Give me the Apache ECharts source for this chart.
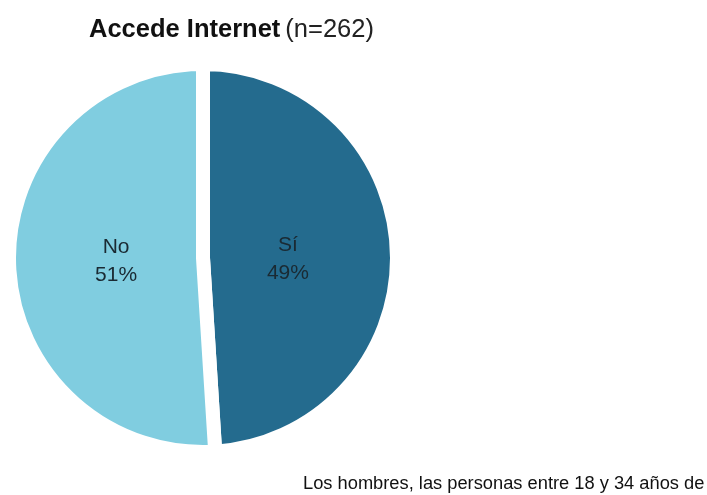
<!DOCTYPE html>
<html>
<head>
<meta charset="utf-8">
<script src="https://cdn.jsdelivr.net/npm/echarts@6/dist/echarts.min.js"></script>
<style>
  html, body { margin: 0; padding: 0; background: #fff; }
  #main { width: 707px; height: 495px; }
</style>
</head>
<body>
<div id="main"></div>
<script>
// datos del gráfico
var categorias = ['Sí', 'No'];
var valores = [49, 51];
var colores = ['#246B8E', '#80CDE0'];
var tituloNegrita = 'Accede Internet';
var tituloNormal = '(n=262)';
var notaPie = 'Los hombres, las personas entre 18 y 34 años de';

var myChart = echarts.init(document.getElementById('main'));

var datos = categorias.map(function (c, i) {
    return { name: c, value: valores[i], itemStyle: { color: colores[i] } };
});

// ajuste de etiquetas hacia el centro (como en el original)
var desplaza = [[-15, 4], [13, 0]];

var option = {
    backgroundColor: '#fff',
    animation: false,
    title: {
        text: '{b|' + tituloNegrita + '} {n|' + tituloNormal + '}',
        left: 84,
        top: 12,
        textStyle: {
            rich: {
                b: { fontFamily: 'Liberation Sans', fontWeight: 'bold', fontSize: 25.5, color: '#111' },
                n: { fontFamily: 'Liberation Sans', fontWeight: 'normal', fontSize: 25.5, color: '#222' }
            }
        }
    },
    graphic: [{
        type: 'text',
        left: 303,
        top: 475,
        style: {
            text: notaPie,
            fontFamily: 'Liberation Sans',
            fontSize: 18.3,
            fill: '#111'
        }
    }],
    series: [{
        type: 'pie',
        center: [203, 258],
        radius: [0, 194],
        startAngle: 90,
        clockwise: true,
        data: datos,
        itemStyle: {
            borderColor: '#fff',
            borderWidth: 14
        },
        label: {
            position: 'inside',
            formatter: '{b}\n{d}%',
            fontFamily: 'Liberation Sans',
            fontSize: 21,
            lineHeight: 28,
            color: '#1a2a33'
        },
        labelLayout: function (p) {
            var d = desplaza[p.dataIndex];
            return { dx: d[0], dy: d[1] };
        },
        labelLine: { show: false },
        emphasis: { disabled: true }
    }]
};

myChart.setOption(option);

window.onresize = function () {
    myChart.resize();
};
</script>
</body>
</html>
